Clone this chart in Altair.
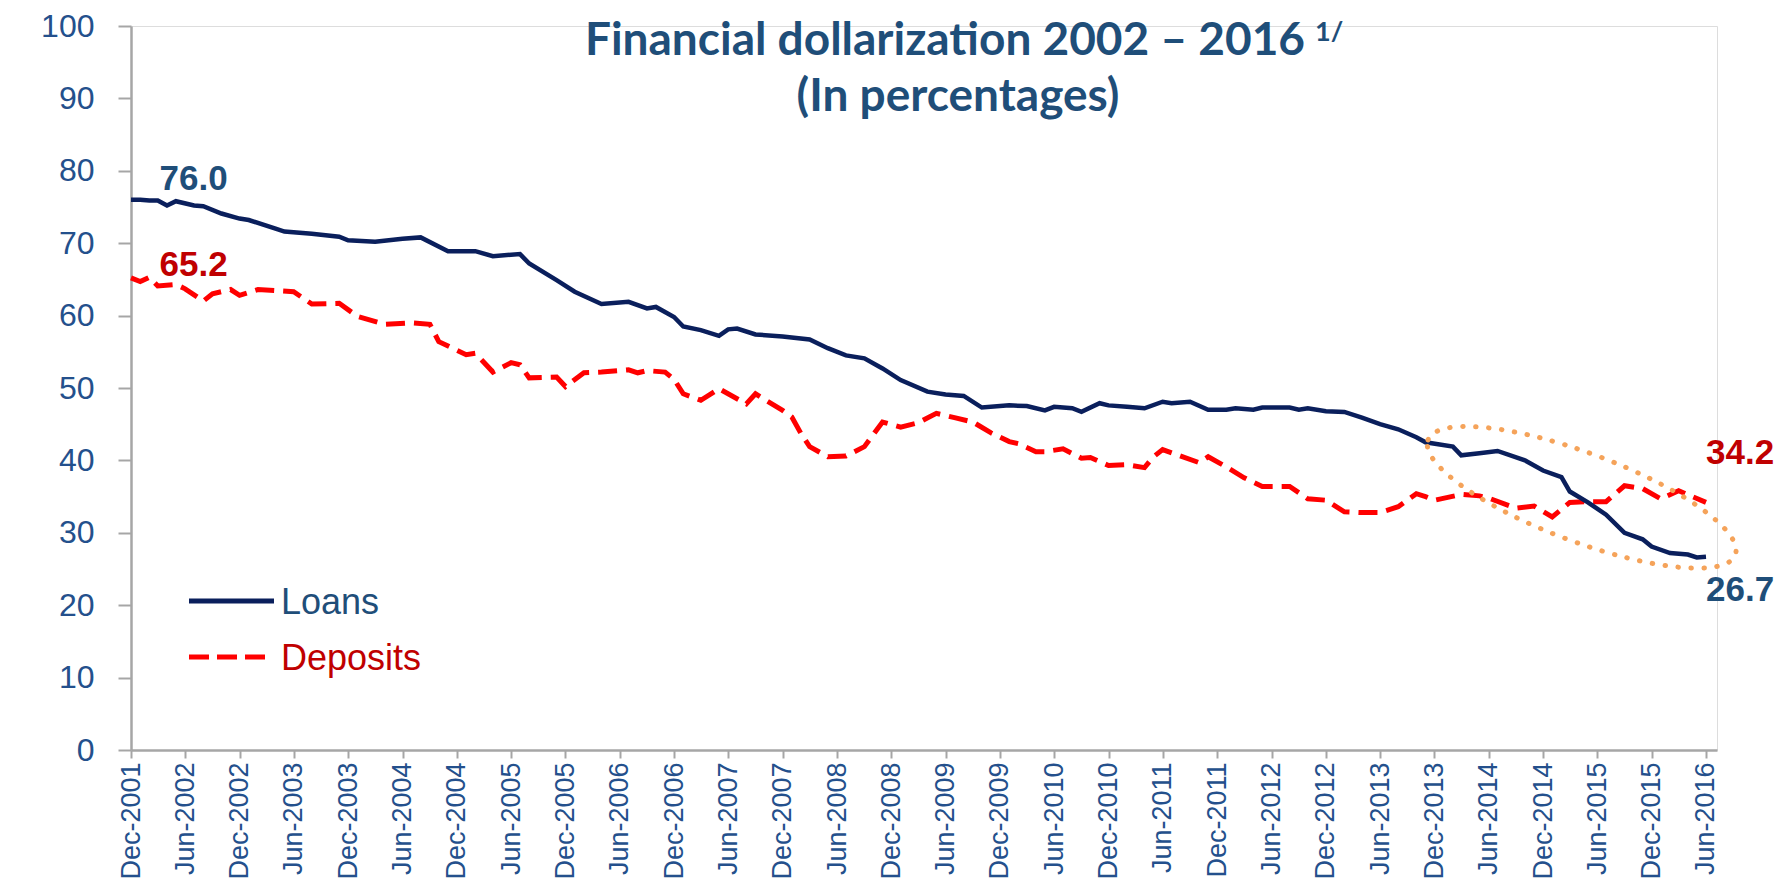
import altair as alt
import pandas as pd

# ---------------- data ----------------
# month offsets counted from Dec-2001 (0 = Dec-2001, 174 = Jun-2016)
loan_months = [0, 1, 2, 3, 4, 5, 7, 8, 10, 12, 13, 16, 17, 20, 23, 24, 27, 30, 32, 35,
               38, 40, 43, 44, 47, 49, 52, 55, 57, 58, 60, 61, 63, 65, 66, 67, 69, 72, 75, 77,
               79, 81, 83, 85, 88, 90, 92, 94, 97, 99, 101, 102, 104, 105, 107, 108, 110, 112, 114, 115,
               117, 119, 121, 122, 124, 125, 128, 129, 130, 132, 134, 136, 138, 140, 142, 143, 146, 147, 149, 151,
               154, 156, 158, 159, 161, 163, 165, 167, 168, 170, 172, 173, 174]
loan_values = [76.0, 76.0, 75.9, 75.9, 75.2, 75.8, 75.2, 75.1, 74.1, 73.4, 73.2, 72.0, 71.6, 71.3, 70.9, 70.4, 70.2, 70.6, 70.8, 68.9,
               68.9, 68.2, 68.5, 67.2, 64.9, 63.3, 61.6, 61.9, 61.0, 61.2, 59.8, 58.5, 58.0, 57.2, 58.1, 58.2, 57.4, 57.1, 56.7, 55.5,
               54.5, 54.1, 52.7, 51.1, 49.5, 49.1, 48.9, 47.3, 47.6, 47.5, 46.9, 47.4, 47.2, 46.7, 47.9, 47.6, 47.4, 47.2, 48.1, 47.9,
               48.1, 47.0, 47.0, 47.2, 47.0, 47.3, 47.3, 47.0, 47.2, 46.8, 46.7, 45.9, 45.0, 44.3, 43.2, 42.5, 41.9, 40.7, 41.0, 41.3,
               40.0, 38.6, 37.7, 35.7, 34.2, 32.5, 30.0, 29.1, 28.1, 27.2, 27.0, 26.6, 26.7]

dep_months = [0, 1, 2, 3, 5, 6, 8, 9, 10, 11, 12, 14, 18, 20, 23, 25, 28, 31, 33, 34,
              37, 38, 40, 42, 43, 44, 47, 48, 50, 52, 55, 56, 57, 59, 60, 61, 63, 65, 68, 69,
              72, 73, 74, 75, 77, 79, 81, 83, 85, 87, 89, 91, 93, 95, 97, 98, 100, 101, 103, 105,
              106, 108, 110, 112, 113, 114, 116, 118, 119, 121, 123, 125, 128, 130, 132, 134, 136, 138, 140, 142,
              143, 144, 147, 149, 150, 153, 155, 157, 159, 161, 163, 165, 167, 169, 171, 174]
dep_values = [65.2, 64.7, 65.3, 64.1, 64.3, 63.7, 62.0, 63.0, 63.3, 63.6, 62.8, 63.6, 63.3, 61.6, 61.7, 59.9, 58.8, 59.0, 58.8, 56.4,
              54.6, 54.8, 52.2, 53.5, 53.2, 51.4, 51.5, 50.2, 52.1, 52.2, 52.5, 52.1, 52.4, 52.2, 51.2, 49.2, 48.3, 49.9, 47.8, 49.2,
              46.9, 46.0, 43.7, 41.9, 40.5, 40.6, 41.9, 45.3, 44.6, 45.2, 46.5, 45.9, 45.3, 43.8, 42.6, 42.3, 41.2, 41.2, 41.6, 40.3,
              40.4, 39.3, 39.4, 39.0, 40.5, 41.5, 40.6, 39.7, 40.5, 39.1, 37.6, 36.4, 36.4, 34.7, 34.5, 32.9, 32.8, 32.8, 33.6, 35.4,
              35.0, 34.5, 35.3, 35.1, 34.8, 33.4, 33.7, 32.2, 34.2, 34.3, 34.3, 36.5, 36.1, 34.7, 35.8, 34.2]

assert len(loan_months) == len(loan_values)
assert len(dep_months) == len(dep_values)

y_ticks = [0, 10, 20, 30, 40, 50, 60, 70, 80, 90, 100]

value_labels = ["76.0", "65.2", "34.2", "26.7"]
value_label_dates = ["2002-03-07", "2002-03-07", "2016-06-01", "2016-06-01"]
value_label_y = [78.8, 67.0, 41.0, 22.1]
value_label_colors = ["#1F4E79", "#C00000", "#C00000", "#1F4E79"]

title_line1 = "Financial dollarization 2002 \u2013 2016"
title_sup = "1/"
title_line2 = "(In percentages)"
legend_names = ["Loans", "Deposits"]

ellipse_center_date = "2015-04-10"
ellipse_center_value = 34.9

# ---------------- styles ----------------
NAVY = "#0A1F5C"
RED = "#FF0000"
LABEL_BLUE = "#24508C"
TITLE_BLUE = "#1F4E79"
DARK_RED = "#C00000"
ORANGE = "#F5A35A"
GRAY = "#A6A6A6"
FONT = "Liberation Sans, Arial, sans-serif"
TFONT = "Lato, sans-serif"


def to_date(m):
    y = 2001 + (11 + m) // 12
    mo = (11 + m) % 12 + 1
    return f"{y}-{mo:02d}-01"


loans_df = pd.DataFrame({"date": [to_date(m) for m in loan_months], "value": loan_values})
dep_df = pd.DataFrame({"date": [to_date(m) for m in dep_months], "value": dep_values})
labels_df = pd.DataFrame({"date": value_label_dates, "value": value_label_y,
                          "text": value_labels, "color": value_label_colors})
ellipse_df = pd.DataFrame({"date": [ellipse_center_date], "value": [ellipse_center_value]})

x_tick_values = []
for yr in range(2001, 2017):
    for mo in (6, 12):
        if (2001, 12) <= (yr, mo) <= (2016, 6):
            x_tick_values.append(alt.DateTime(year=yr, month=mo, date=1, utc=True))

X = alt.X(
    "date:T",
    scale=alt.Scale(type="utc",
                    domain=[alt.DateTime(year=2001, month=12, date=1, utc=True),
                            alt.DateTime(year=2016, month=7, date=8, utc=True)]),
    axis=alt.Axis(values=x_tick_values, labelExpr="utcFormat(datum.value, '%b-%Y')",
                  labelAngle=270, labelFontSize=27, labelFont=FONT, labelColor=LABEL_BLUE,
                  labelPadding=4, tickSize=8, tickWidth=2, tickColor=GRAY, domainColor=GRAY,
                  domainWidth=2.5, grid=False, title=None, labelOverlap=False, labelFlush=False),
)
Y = alt.Y(
    "value:Q",
    scale=alt.Scale(domain=[0, 100], nice=False),
    axis=alt.Axis(values=y_ticks, labelFontSize=32, labelFont=FONT, labelColor=LABEL_BLUE,
                  labelPadding=24, tickSize=13, tickWidth=2, tickColor=GRAY, domainColor=GRAY,
                  domainWidth=2.5, grid=False, title=None),
)

loan_line = alt.Chart(loans_df).mark_line(color=NAVY, strokeWidth=4.5).encode(x=X, y=Y)
dep_line = alt.Chart(dep_df).mark_line(color=RED, strokeWidth=5, strokeDash=[19, 9]).encode(x=X, y=Y)

labels = alt.Chart(labels_df).mark_text(align="left", baseline="middle", fontSize=35,
                                        fontWeight="bold", font=FONT).encode(
    x=X, y=Y, text="text:N", color=alt.Color("color:N", scale=None))

ELLIPSE_PATH = ("M-1,0C-1,-0.149,-0.552,-0.27,0,-0.27C0.552,-0.27,1,-0.149,1,0"
                "C1,0.149,0.552,0.27,0,0.27C-0.552,0.27,-1,0.149,-1,0Z")
ellipse = alt.Chart(ellipse_df).mark_point(
    shape=ELLIPSE_PATH, size=328 * 328, angle=20.5, filled=False, color=ORANGE,
    strokeWidth=5, strokeDash=[0.5, 12.5], strokeCap="round", opacity=1).encode(x=X, y=Y)

one = pd.DataFrame({"k": [0]})

leg_loans = alt.Chart(one).mark_rule(color=NAVY, strokeWidth=5).encode(
    x=alt.value(58), x2=alt.value(143), y=alt.value(575))
leg_dep = alt.Chart(one).mark_rule(color=RED, strokeWidth=5, strokeDash=[20, 8]).encode(
    x=alt.value(58), x2=alt.value(135), y=alt.value(631))
leg_t1 = alt.Chart(one).mark_text(text=legend_names[0], align="left", baseline="middle", fontSize=36,
                                  font=FONT, color=TITLE_BLUE).encode(x=alt.value(150), y=alt.value(577))
leg_t2 = alt.Chart(one).mark_text(text=legend_names[1], align="left", baseline="middle", fontSize=36,
                                  font=FONT, color=DARK_RED).encode(x=alt.value(150), y=alt.value(633))

t1 = alt.Chart(one).mark_text(text=title_line1, align="right", baseline="alphabetic", fontSize=46,
                              fontWeight="bold", font=TFONT, color=TITLE_BLUE).encode(
    x=alt.value(1174), y=alt.value(29))
t_sup = alt.Chart(one).mark_text(text=title_sup, align="left", baseline="alphabetic", fontSize=27,
                                 fontWeight="bold", font=TFONT, color=TITLE_BLUE).encode(
    x=alt.value(1184), y=alt.value(15))
t2 = alt.Chart(one).mark_text(text=title_line2, align="center", baseline="alphabetic", fontSize=46,
                              fontWeight="bold", font=TFONT, color=TITLE_BLUE).encode(
    x=alt.value(827), y=alt.value(85))

chart = alt.layer(
    dep_line, loan_line, ellipse, labels, leg_loans, leg_dep, leg_t1, leg_t2, t1, t_sup, t2
).properties(
    width=1586, height=724,
    autosize=alt.AutoSizeParams(type="none"),
    padding={"left": 123, "top": 18, "right": 67, "bottom": 134},
).configure_view(stroke=None).configure(background="white")

chart.save("out.html", embed_options={"renderer": "svg", "actions": False})
